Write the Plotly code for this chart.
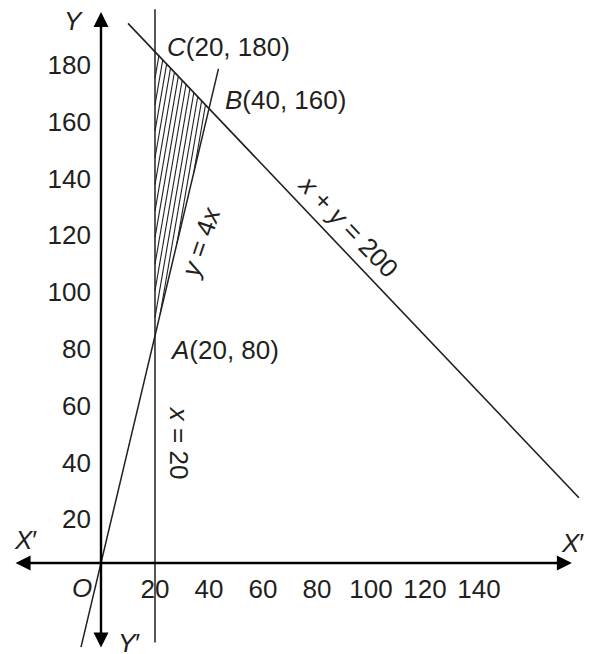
import numpy as np
import plotly.graph_objects as go

# ---------------- data ----------------
x_ticks = [20, 40, 60, 80, 100, 120, 140]
y_ticks = [20, 40, 60, 80, 100, 120, 140, 160, 180]

# corner points of the feasible region
pt_names = ["A", "B", "C"]
pt_x = [20, 40, 20]
pt_y = [80, 160, 180]

# constraint lines and the extent to which they are drawn
vline_x = 20                 # x = 20
vline_yrange = [-28, 195]
line1_slope = 4              # y = 4x
line1_xrange = [-7.4, 43.5]
line2_sum = 200              # x + y = 200
line2_xrange = [10, 177]

# axes extents (arrow tips)
xaxis_ext = [-32.2, 174.4]
yaxis_ext = [-30.3, 194.0]

# ---------------- figure ----------------
# the page body has an 8px margin, so the figure is 8px smaller
W, H = 586, 646
xr = [-34.44, 182.59]
yr = [-32.04, 195.42]
INK = "#231f20"
FONT = "Liberation Sans, Arial, sans-serif"
FS = 26

fig = go.Figure()

# hatching of the triangle A-B-C
tri = list(zip(pt_x, pt_y))
m = 5.5           # slope of hatch lines (data units)
step = 1.7
hx, hy = [], []
cs = np.arange(min(pt_x) - max(pt_y) / m, max(pt_x), step)
for c in cs:
    pts = []
    for i in range(3):
        (x1, y1), (x2, y2) = tri[i], tri[(i + 1) % 3]
        f1 = x1 - y1 / m - c
        f2 = x2 - y2 / m - c
        if f1 == f2:
            continue
        t = f1 / (f1 - f2)
        if 0 <= t <= 1:
            pts.append((x1 + t * (x2 - x1), y1 + t * (y2 - y1)))
    if len(pts) >= 2:
        pts.sort(key=lambda p: p[1])
        (a, b), (cc, d) = pts[0], pts[-1]
        if abs(d - b) > 1e-6:
            hx += [a, cc, None]
            hy += [b, d, None]
fig.add_trace(go.Scatter(x=hx, y=hy, mode="lines",
                         line=dict(color=INK, width=1.1), hoverinfo="skip"))

# x = 20
fig.add_trace(go.Scatter(x=[vline_x, vline_x], y=vline_yrange, mode="lines",
                         line=dict(color=INK, width=1.5), hoverinfo="skip"))
# y = 4x
l1x = np.array(line1_xrange)
fig.add_trace(go.Scatter(x=l1x, y=line1_slope * l1x, mode="lines",
                         line=dict(color=INK, width=1.5), hoverinfo="skip"))
# x + y = 200
l2x = np.array(line2_xrange)
fig.add_trace(go.Scatter(x=l2x, y=line2_sum - l2x, mode="lines",
                         line=dict(color=INK, width=1.6), hoverinfo="skip"))

ann = []
# axes with arrows
ann.append(dict(x=xaxis_ext[1], y=0, ax=xaxis_ext[0], ay=0, xref="x", yref="y",
                axref="x", ayref="y", text="", showarrow=True, arrowhead=2,
                arrowside="end+start", arrowsize=1.25, arrowwidth=2.4,
                arrowcolor="black", standoff=0, startstandoff=0))
ann.append(dict(x=0, y=yaxis_ext[1], ax=0, ay=yaxis_ext[0], xref="x", yref="y",
                axref="x", ayref="y", text="", showarrow=True, arrowhead=2,
                arrowside="end+start", arrowsize=1.25, arrowwidth=2.4,
                arrowcolor="black", standoff=0, startstandoff=0))


def label(x, y, text, xanchor="center", angle=0):
    ann.append(dict(x=x, y=y, xref="x", yref="y", text=text, showarrow=False,
                    xanchor=xanchor, yanchor="middle", textangle=angle,
                    font=dict(family=FONT, size=FS, color=INK)))


# point labels
label(23.7, 181.7, "<i>C</i>(20, 180)", "left")
label(45.2, 163.0, "<i>B</i>(40, 160)", "left")
label(24.8, 75.0, "<i>A</i>(20, 80)", "left")
# line labels
label(37.0, 113.0, "<i>y</i> = 4<i>x</i>", angle=-71)
label(28.9, 42.3, "<i>x</i> = 20", angle=90)
label(91.5, 118.7, "<i>x</i> + <i>y</i> = 200", angle=46)
# axis names
label(-10.0, 190.8, "<i>Y</i>")
label(-27.8, 8.1, "<i>X</i>′")
label(174.8, 7.0, "<i>X</i>′")
label(-7.0, -8.8, "<i>O</i>")
label(10.5, -28.3, "<i>Y</i>′")

fig.update_layout(
    width=W, height=H,
    margin=dict(l=0, r=0, t=0, b=0, pad=0),
    paper_bgcolor="white", plot_bgcolor="white",
    showlegend=False,
    annotations=ann,
    font=dict(family=FONT, size=FS, color=INK),
    xaxis=dict(range=xr, showgrid=False, zeroline=False, showline=False,
               tickvals=x_ticks, ticktext=[str(v) for v in x_ticks],
               ticks="", anchor="free",
               position=(0 - yr[0]) / (yr[1] - yr[0]),
               ticklabelstandoff=8, ticklabelshift=0,
               tickfont=dict(family=FONT, size=FS, color=INK),
               fixedrange=True),
    yaxis=dict(range=yr, showgrid=False, zeroline=False, showline=False,
               tickvals=y_ticks, ticktext=[str(v) for v in y_ticks],
               ticks="", anchor="free",
               position=(0 - xr[0]) / (xr[1] - xr[0]),
               ticklabelstandoff=10, ticklabelshift=13,
               tickfont=dict(family=FONT, size=FS, color=INK),
               fixedrange=True),
)

fig.write_html("out.html")
